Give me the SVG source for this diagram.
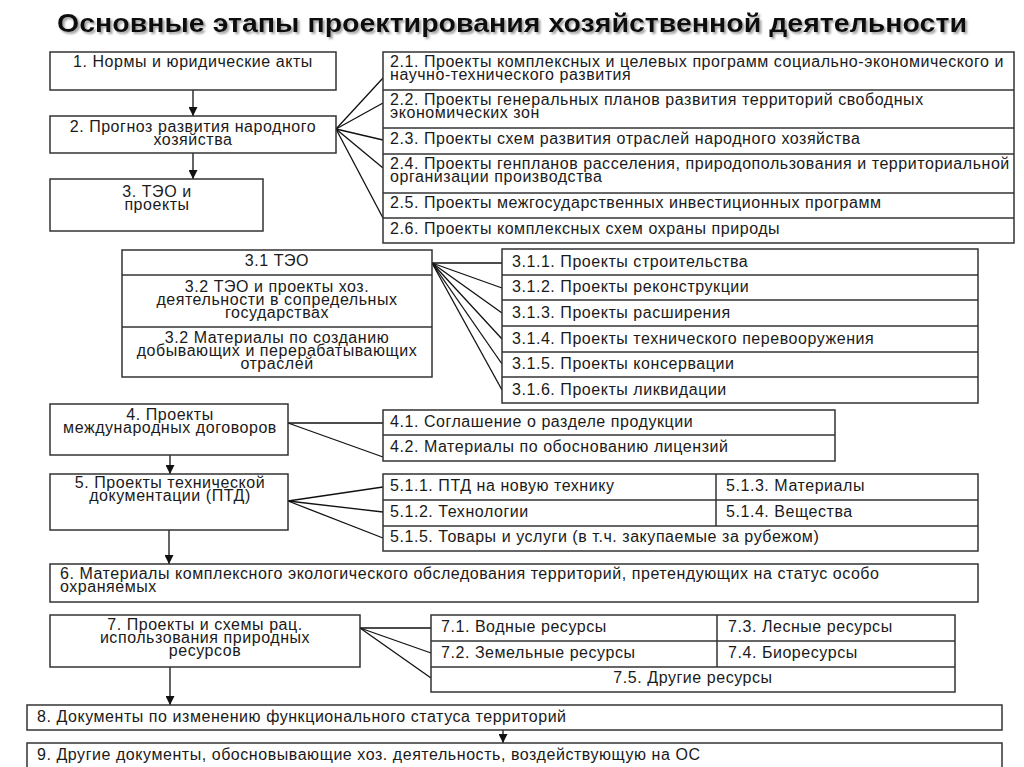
<svg xmlns="http://www.w3.org/2000/svg" width="1024" height="767" viewBox="0 0 1024 767">
<defs>
<marker id="arr" viewBox="0 0 10 10" refX="10" refY="5" markerWidth="9" markerHeight="9" markerUnits="userSpaceOnUse" orient="auto">
<path d="M0,0 L10,5 L0,10 z" fill="#111"/>
</marker>
<filter id="shadow" x="-5%" y="-30%" width="110%" height="170%">
<feDropShadow dx="2" dy="2" stdDeviation="1.2" flood-color="#888" flood-opacity="0.8"/>
</filter>
<style>
.b{fill:#fff;stroke:#333;stroke-width:1.5}
.d{stroke:#333;stroke-width:1.5;fill:none}
.t{font-family:"Liberation Sans",Arial,sans-serif;font-size:16px;letter-spacing:0.55px;fill:#1a1a1a}
.c{text-anchor:middle}
.ln{stroke:#111;stroke-width:1.3;fill:none}
.title{font-family:"Liberation Sans",Arial,sans-serif;font-size:25px;font-weight:bold;fill:#111}
</style>
</defs>
<rect width="1024" height="767" fill="#fff"/>
<text class="title" x="57" y="32" textLength="910" lengthAdjust="spacingAndGlyphs" filter="url(#shadow)">Основные этапы проектирования хозяйственной деятельности</text>

<g id="connectors">
<line class="ln" x1="193" y1="90" x2="193" y2="116" marker-end="url(#arr)"/>
<line class="ln" x1="193" y1="153" x2="193" y2="179" marker-end="url(#arr)"/>
<line class="ln" x1="336" y1="129" x2="383" y2="78"/>
<line class="ln" x1="336" y1="129" x2="383" y2="103"/>
<line class="ln" x1="336" y1="129" x2="383" y2="140"/>
<line class="ln" x1="336" y1="129" x2="383" y2="168"/>
<line class="ln" x1="336" y1="129" x2="383" y2="218"/>
<line class="ln" x1="432" y1="263" x2="502" y2="263"/>
<line class="ln" x1="432" y1="263" x2="502" y2="288"/>
<line class="ln" x1="432" y1="263" x2="502" y2="313"/>
<line class="ln" x1="432" y1="263" x2="502" y2="339"/>
<line class="ln" x1="432" y1="263" x2="502" y2="364"/>
<line class="ln" x1="432" y1="263" x2="502" y2="390"/>
<line class="ln" x1="288" y1="423" x2="383" y2="423"/>
<line class="ln" x1="288" y1="423" x2="383" y2="457"/>
<line class="ln" x1="170" y1="455" x2="170" y2="474" marker-end="url(#arr)"/>
<line class="ln" x1="288" y1="501" x2="383" y2="487"/>
<line class="ln" x1="288" y1="501" x2="383" y2="512"/>
<line class="ln" x1="288" y1="501" x2="383" y2="538"/>
<line class="ln" x1="169" y1="530" x2="169" y2="564" marker-end="url(#arr)"/>
<line class="ln" x1="360" y1="628" x2="431" y2="628"/>
<line class="ln" x1="360" y1="628" x2="431" y2="653"/>
<line class="ln" x1="360" y1="628" x2="431" y2="678"/>
<line class="ln" x1="170" y1="667" x2="170" y2="705" marker-end="url(#arr)"/>
<line class="ln" x1="503" y1="730" x2="503" y2="743" marker-end="url(#arr)"/>
</g>

<g id="n1">
<rect class="b" x="50" y="52" width="286" height="38"/>
<text class="t c" x="193" y="67">1. Нормы и юридические акты</text>
</g>
<g id="n2">
<rect class="b" x="50" y="116" width="286" height="37"/>
<text class="t c" x="193" y="132">2. Прогноз развития народного</text>
<text class="t c" x="193" y="145">хозяйства</text>
</g>
<g id="n3">
<rect class="b" x="50" y="179" width="213" height="52"/>
<text class="t c" x="157" y="197">3. ТЭО и</text>
<text class="t c" x="157" y="210">проекты</text>
</g>

<g id="n2x">
<rect class="b" x="383" y="52" width="631" height="191"/>
<line class="d" x1="383" y1="90" x2="1014" y2="90"/>
<line class="d" x1="383" y1="128" x2="1014" y2="128"/>
<line class="d" x1="383" y1="154" x2="1014" y2="154"/>
<line class="d" x1="383" y1="193" x2="1014" y2="193"/>
<line class="d" x1="383" y1="218" x2="1014" y2="218"/>
<text class="t" x="390" y="67">2.1. Проекты комплексных и целевых программ социально-экономического и</text>
<text class="t" x="390" y="80">научно-технического развития</text>
<text class="t" x="390" y="105">2.2. Проекты генеральных планов развития территорий свободных</text>
<text class="t" x="390" y="118">экономических зон</text>
<text class="t" x="390" y="144">2.3. Проекты схем развития отраслей народного хозяйства</text>
<text class="t" x="390" y="169">2.4. Проекты генпланов расселения, природопользования и территориальной</text>
<text class="t" x="390" y="182">организации производства</text>
<text class="t" x="390" y="208">2.5. Проекты межгосударственных инвестиционных программ</text>
<text class="t" x="390" y="234">2.6. Проекты комплексных схем охраны природы</text>
</g>

<g id="n3x">
<rect class="b" x="122" y="250" width="310" height="127"/>
<line class="d" x1="122" y1="275" x2="432" y2="275"/>
<line class="d" x1="122" y1="327" x2="432" y2="327"/>
<text class="t c" x="277" y="266">3.1 ТЭО</text>
<text class="t c" x="277" y="292">3.2 ТЭО и проекты хоз.</text>
<text class="t c" x="277" y="305">деятельности в сопредельных</text>
<text class="t c" x="277" y="318">государствах</text>
<text class="t c" x="277" y="343">3.2 Материалы по созданию</text>
<text class="t c" x="277" y="356">добывающих и перерабатывающих</text>
<text class="t c" x="277" y="369">отраслей</text>
</g>

<g id="n31x">
<rect class="b" x="502" y="249" width="476" height="154"/>
<line class="d" x1="502" y1="275" x2="978" y2="275"/>
<line class="d" x1="502" y1="300" x2="978" y2="300"/>
<line class="d" x1="502" y1="326" x2="978" y2="326"/>
<line class="d" x1="502" y1="352" x2="978" y2="352"/>
<line class="d" x1="502" y1="377" x2="978" y2="377"/>
<text class="t" x="512" y="267">3.1.1. Проекты строительства</text>
<text class="t" x="512" y="292">3.1.2. Проекты реконструкции</text>
<text class="t" x="512" y="318">3.1.3. Проекты расширения</text>
<text class="t" x="512" y="344">3.1.4. Проекты технического перевооружения</text>
<text class="t" x="512" y="369">3.1.5. Проекты консервации</text>
<text class="t" x="512" y="395">3.1.6. Проекты ликвидации</text>
</g>

<g id="n4">
<rect class="b" x="50" y="404" width="238" height="51"/>
<text class="t c" x="170" y="420">4. Проекты</text>
<text class="t c" x="170" y="433">международных договоров</text>
</g>
<g id="n4x">
<rect class="b" x="383" y="410" width="452" height="51"/>
<line class="d" x1="383" y1="435" x2="835" y2="435"/>
<text class="t" x="390" y="427">4.1. Соглашение о разделе продукции</text>
<text class="t" x="390" y="452">4.2. Материалы по обоснованию лицензий</text>
</g>

<g id="n5">
<rect class="b" x="50" y="474" width="238" height="56"/>
<text class="t c" x="170" y="488">5. Проекты технической</text>
<text class="t c" x="170" y="501">документации (ПТД)</text>
</g>
<g id="n5x">
<rect class="b" x="383" y="474" width="595" height="77"/>
<line class="d" x1="383" y1="500" x2="978" y2="500"/>
<line class="d" x1="383" y1="526" x2="978" y2="526"/>
<line class="d" x1="716" y1="474" x2="716" y2="526"/>
<text class="t" x="390" y="491">5.1.1. ПТД на новую технику</text>
<text class="t" x="726" y="491">5.1.3. Материалы</text>
<text class="t" x="390" y="517">5.1.2. Технологии</text>
<text class="t" x="726" y="517">5.1.4. Вещества</text>
<text class="t" x="390" y="542">5.1.5. Товары и услуги (в т.ч. закупаемые за рубежом)</text>
</g>

<g id="n6">
<rect class="b" x="50" y="564" width="928" height="38"/>
<text class="t" x="60" y="579">6. Материалы комплексного экологического обследования территорий, претендующих на статус особо</text>
<text class="t" x="60" y="592">охраняемых</text>
</g>

<g id="n7">
<rect class="b" x="50" y="615" width="310" height="52"/>
<text class="t c" x="205" y="630">7. Проекты и схемы рац.</text>
<text class="t c" x="205" y="643">использования природных</text>
<text class="t c" x="205" y="656">ресурсов</text>
</g>
<g id="n7x">
<rect class="b" x="431" y="615" width="524" height="77"/>
<line class="d" x1="431" y1="641" x2="955" y2="641"/>
<line class="d" x1="431" y1="667" x2="955" y2="667"/>
<line class="d" x1="717" y1="615" x2="717" y2="667"/>
<text class="t" x="441" y="632">7.1. Водные ресурсы</text>
<text class="t" x="728" y="632">7.3. Лесные ресурсы</text>
<text class="t" x="441" y="658">7.2. Земельные ресурсы</text>
<text class="t" x="728" y="658">7.4. Биоресурсы</text>
<text class="t c" x="693" y="683">7.5. Другие ресурсы</text>
</g>

<g id="n8">
<rect class="b" x="27" y="705" width="975" height="25"/>
<text class="t" x="37" y="722">8. Документы по изменению функционального статуса территорий</text>
</g>
<g id="n9">
<rect class="b" x="27" y="743" width="975" height="30"/>
<text class="t" x="37" y="760">9. Другие документы, обосновывающие хоз. деятельность, воздействующую на ОС</text>
</g>
</svg>
